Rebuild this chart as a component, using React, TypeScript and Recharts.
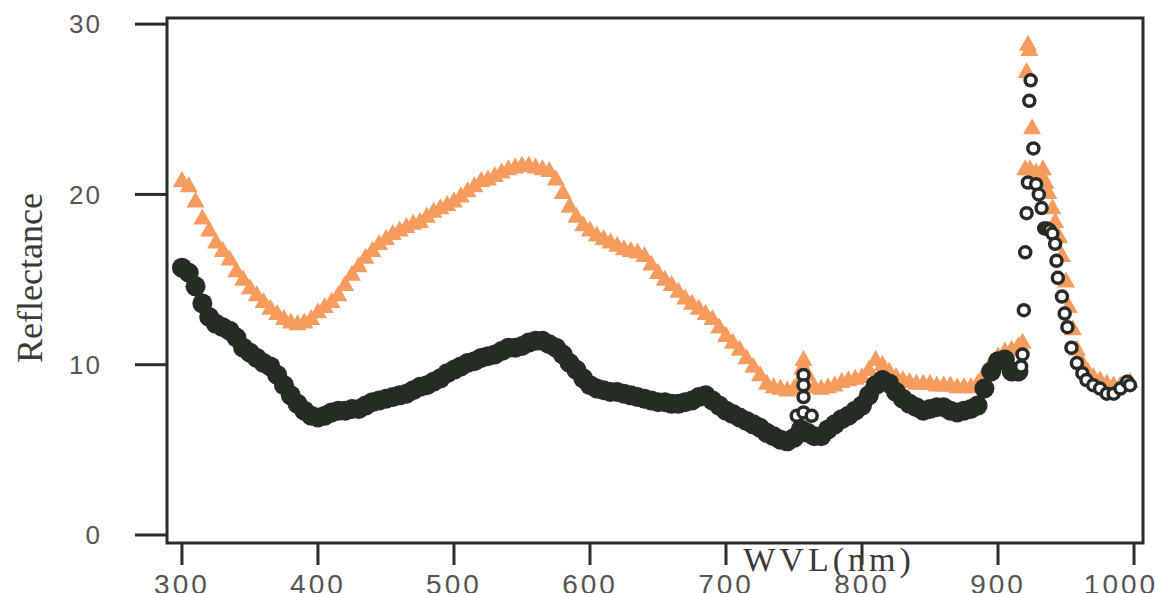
import { ScatterChart, Scatter, XAxis, YAxis, ReferenceArea, Label } from 'recharts';

// wavelength grid (nm) for the dense part of both spectra
const gridWvl = [
  300, 305, 310, 315, 320, 325, 330, 335, 340, 345,
  350, 355, 360, 365, 370, 375, 380, 385, 390, 395,
  400, 405, 410, 415, 420, 425, 430, 435, 440, 445,
  450, 455, 460, 465, 470, 475, 480, 485, 490, 495,
  500, 505, 510, 515, 520, 525, 530, 535, 540, 545,
  550, 555, 560, 565, 570, 575, 580, 585, 590, 595,
  600, 605, 610, 615, 620, 625, 630, 635, 640, 645,
  650, 655, 660, 665, 670, 675, 680, 685, 690, 695,
  700, 705, 710, 715, 720, 725, 730, 735, 740, 745,
  750, 755, 760, 765, 770, 775, 780, 785, 790, 795,
  800, 805, 810, 815, 820, 825, 830, 835, 840, 845,
  850, 855, 860, 865, 870, 875, 880, 885, 890, 895,
  900, 905, 910, 915,
];

const orangeRefl = [
  20.9, 20.6, 19.7, 18.7, 18.0, 17.3, 16.8, 16.3, 15.6, 15.1,
  14.6, 14.2, 13.8, 13.4, 13.1, 12.8, 12.6, 12.5, 12.6, 12.8,
  13.2, 13.5, 13.8, 14.2, 14.8, 15.4, 15.9, 16.4, 16.8, 17.2,
  17.5, 17.8, 18.0, 18.2, 18.4, 18.5, 18.8, 19.1, 19.3, 19.5,
  19.7, 20.0, 20.3, 20.6, 20.9, 21.0, 21.2, 21.4, 21.6, 21.7,
  21.8, 21.8, 21.7, 21.6, 21.5, 21.0, 20.2, 19.4, 18.8, 18.3,
  18.0, 17.7, 17.5, 17.3, 17.1, 16.9, 16.8, 16.7, 16.5, 16.0,
  15.5, 15.1, 14.8, 14.4, 14.0, 13.7, 13.4, 13.1, 12.8, 12.3,
  11.8, 11.4, 11.0, 10.5, 10.0, 9.5, 9.0, 8.8, 8.7, 8.6,
  8.7, 9.3, 9.5, 8.8, 8.7, 8.8, 8.9, 9.1, 9.2, 9.3,
  9.4, 9.8, 10.4, 10.1, 9.7, 9.4, 9.2, 9.1, 9.0, 9.0,
  9.0, 8.9, 8.9, 8.9, 8.8, 8.8, 8.8, 9.0, 9.6, 10.2,
  10.6, 10.9, 11.0, 11.2,
];

const darkRefl = [
  15.7, 15.4, 14.6, 13.6, 12.8, 12.4, 12.2, 12.0, 11.6, 11.0,
  10.7, 10.4, 10.1, 9.9, 9.4, 8.8, 8.2, 7.7, 7.3, 7.0,
  6.9, 7.0, 7.2, 7.3, 7.3, 7.4, 7.4, 7.6, 7.8, 7.9,
  8.0, 8.1, 8.2, 8.3, 8.5, 8.7, 8.8, 9.0, 9.2, 9.5,
  9.7, 9.9, 10.1, 10.2, 10.4, 10.5, 10.6, 10.8, 11.0, 11.0,
  11.1, 11.3, 11.4, 11.4, 11.2, 11.0, 10.6, 10.1, 9.7, 9.2,
  8.8, 8.6, 8.5, 8.4, 8.4, 8.3, 8.2, 8.1, 8.0, 7.9,
  7.8, 7.8, 7.7, 7.7, 7.8, 7.9, 8.1, 8.2, 7.9, 7.6,
  7.3, 7.1, 6.9, 6.7, 6.5, 6.3, 6.0, 5.8, 5.6, 5.5,
  5.7, 6.2, 6.0, 5.8, 5.8, 6.2, 6.5, 6.8, 7.0, 7.3,
  7.6, 8.2, 8.8, 9.1, 8.9, 8.4, 8.0, 7.7, 7.5, 7.3,
  7.4, 7.5, 7.5, 7.3, 7.2, 7.3, 7.4, 7.6, 8.6, 9.6,
  10.2, 10.3, 9.6, 9.6,
];

// sparse points: spike near 757 nm and the water band peak
const orangeExtraWvl = [756, 757, 758, 918, 920, 921, 922, 923, 923.5, 925, 928, 930, 933, 935, 937, 940, 942, 945, 947, 950, 952, 955, 958, 962, 966, 970, 975, 980, 985, 990, 995, 997];
const orangeExtraRefl = [9.9, 10.4, 9.8, 11.4, 21.6, 27.3, 28.9, 28.6, 21.6, 24.0, 21.4, 21.2, 21.6, 20.8, 20.2, 19.3, 18.5, 17.6, 16.5, 15.0, 13.5, 12.2, 11.0, 10.2, 9.7, 9.4, 9.2, 9.0, 8.9, 8.9, 9.0, 9.1];

const darkRingWvl = [752, 757, 757, 757, 757, 763, 917, 918, 919, 920, 921, 922, 923, 924, 926, 928, 930, 932, 934, 936, 938, 940, 942, 943, 944, 947, 949, 951, 954, 958, 962, 965, 970, 975, 980, 985, 990, 995, 997];
const darkRingRefl = [7.0, 9.4, 8.8, 8.1, 7.2, 7.0, 9.9, 10.6, 13.2, 16.6, 18.9, 20.7, 25.5, 26.7, 22.7, 20.6, 20.0, 19.2, 18.0, 18.0, 17.9, 17.7, 17.1, 16.1, 15.1, 14.0, 13.0, 12.2, 11.0, 10.1, 9.5, 9.1, 8.8, 8.6, 8.3, 8.3, 8.6, 9.0, 8.8];

const xTicks = [300, 400, 500, 600, 700, 800, 900, 1000];
const yTicks = [0, 10, 20, 30];

const ORANGE = '#f59b5e';
const DARK = '#262b26';
const INK = '#2b2b2b';

const X_DOMAIN: [number, number] = [289, 1006.6];
const Y_DOMAIN: [number, number] = [-0.47, 30.36];

const toPoints = (w: number[], r: number[]) => w.map((x, i) => ({ w: x, r: r[i] }));

const orangeData = [...toPoints(gridWvl, orangeRefl), ...toPoints(orangeExtraWvl, orangeExtraRefl)];
const darkData = toPoints(gridWvl, darkRefl);
const darkRingData = toPoints(darkRingWvl, darkRingRefl);

const Triangle = (props: any) => {
  const { cx, cy } = props;
  return <polygon points={`${cx},${cy - 8} ${cx - 9},${cy + 8} ${cx + 9},${cy + 8}`} fill={ORANGE} />;
};

const Dot = (props: any) => <circle cx={props.cx} cy={props.cy} r={10} fill={DARK} />;

const Ring = (props: any) => (
  <circle cx={props.cx} cy={props.cy} r={5.5} fill="#fff" stroke={DARK} strokeWidth={3.5} />
);

const tickFont = "'Liberation Sans', Arial, sans-serif";
const titleFont = "'Liberation Serif', 'Times New Roman', serif";

export default function App() {
  return (
    <div style={{ position: 'absolute', left: 0, top: 0, width: 1155, height: 593, background: '#fff', overflow: 'hidden' }}>
      <ScatterChart width={1155} height={593} margin={{ top: 18, right: 12, bottom: 0, left: 0 }}>
        <XAxis
          type="number"
          dataKey="w"
          domain={X_DOMAIN}
          allowDataOverflow
          ticks={xTicks}
          axisLine={false}
          tickSize={22}
          tickMargin={9}
          tickLine={{ stroke: INK, strokeWidth: 3 }}
          tick={{ fontSize: 28, fill: '#555', fontFamily: tickFont, letterSpacing: 3 }}
          height={50}
        >
          <Label
            content={() => (
              <text x={829} y={571} textAnchor="middle" fontSize={34} letterSpacing={4} fill="#3a3a3a" fontFamily={titleFont}>
                WVL(nm)
              </text>
            )}
          />
        </XAxis>
        <YAxis
          type="number"
          dataKey="r"
          domain={Y_DOMAIN}
          allowDataOverflow
          ticks={yTicks}
          axisLine={false}
          tickSize={32}
          tickMargin={33}
          tickLine={{ stroke: INK, strokeWidth: 3 }}
          tick={{ fontSize: 26, fill: '#555', fontFamily: tickFont, letterSpacing: 2 }}
          width={167}
        >
          <Label
            content={() => (
              <text
                x={30}
                y={278}
                transform="rotate(-90, 30, 278)"
                textAnchor="middle"
                dominantBaseline="central"
                fontSize={36}
                fill="#3a3a3a"
                fontFamily={titleFont}
              >
                Reflectance
              </text>
            )}
          />
        </YAxis>
        <ReferenceArea
          x1={X_DOMAIN[0]}
          x2={X_DOMAIN[1]}
          y1={Y_DOMAIN[0]}
          y2={Y_DOMAIN[1]}
          fill="none"
          stroke={INK}
          strokeWidth={3}
          ifOverflow="visible"
        />
        <Scatter data={orangeData} shape={Triangle} isAnimationActive={false} />
        <Scatter data={darkData} shape={Dot} isAnimationActive={false} />
        <Scatter data={darkRingData} shape={Ring} isAnimationActive={false} />
      </ScatterChart>
    </div>
  );
}
